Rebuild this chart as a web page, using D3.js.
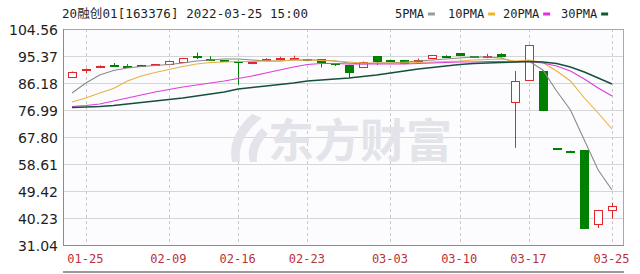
<!DOCTYPE html>
<html><head><meta charset="utf-8">
<script src="https://cdn.jsdelivr.net/npm/d3@7"></script>
<style>
html,body{margin:0;padding:0;background:#fff;}
svg{display:block;}
</style></head>
<body>
<svg id="chart" width="640" height="274"></svg>
<script>
// Daily K-line of 20融创01 with moving averages
const dates = ["01-24","01-25","01-26","01-27","01-28","02-07","02-08","02-09","02-10","02-11",
  "02-14","02-15","02-16","02-17","02-18","02-21","02-22","02-23","02-24","02-25",
  "02-28","03-01","03-02","03-03","03-04","03-07","03-08","03-09","03-10","03-11",
  "03-14","03-15","03-16","03-17","03-18","03-21","03-22","03-23","03-24","03-25"];
const opens  = [88.22,90.26,91.55,92.35,92.10,92.30,92.50,92.60,93.45,95.20,
  94.30,93.85,93.75,92.65,94.30,94.60,94.75,94.35,94.35,92.95,
  92.30,91.73,95.37,94.00,94.00,93.95,94.55,95.50,96.28,95.20,
  95.30,95.95,79.71,87.20,90.26,63.90,63.10,63.30,38.19,42.80];
const highs  = [90.10,91.10,92.20,93.00,92.60,92.35,92.65,93.70,94.70,96.50,
  95.30,93.90,93.80,93.40,94.60,95.10,95.50,94.40,94.40,93.00,
  92.35,93.50,95.40,94.05,94.05,94.50,95.60,95.60,96.30,95.40,
  96.10,96.30,90.26,99.20,90.60,63.95,63.15,63.35,43.00,45.40];
const lows   = [88.00,89.58,91.45,92.28,92.00,92.20,92.45,92.50,93.40,94.30,
  94.20,93.70,85.60,92.60,94.10,93.80,94.70,94.20,91.50,91.97,
  87.80,91.60,92.30,93.30,92.60,93.90,94.45,95.30,95.30,94.90,
  94.60,94.80,64.10,87.10,76.60,63.65,62.95,36.45,36.83,40.00];
const closes = [89.92,90.94,92.05,92.30,92.05,92.25,92.60,93.60,94.60,95.10,
  94.25,93.75,93.50,93.33,94.40,94.70,94.80,94.30,92.90,92.85,
  89.50,93.43,93.43,93.35,92.65,94.05,95.55,95.35,95.37,95.10,
  95.40,94.95,86.86,99.12,76.65,63.72,63.03,36.50,42.90,44.40];

const ma5  = [82.78,86.18,88.90,90.43,91.28,91.80,92.14,92.48,92.99,93.67,
  94.01,94.35,94.35,94.01,93.67,93.67,94.01,94.01,94.01,93.67,
  92.99,92.65,92.99,92.99,93.33,93.67,94.01,94.35,94.69,95.03,
  95.03,94.69,93.33,93.67,90.60,83.46,76.99,66.78,56.57,49.76];
const ma10 = [79.71,81.07,82.78,84.31,86.86,88.56,89.75,90.77,91.80,92.65,
  93.16,93.33,93.50,93.50,93.67,93.67,94.01,94.01,93.84,93.67,
  93.33,92.99,92.99,92.99,92.99,93.16,93.33,93.50,93.67,94.01,
  94.18,94.35,93.67,94.01,93.16,90.26,86.86,81.07,75.97,70.52];
const ma20 = [78.18,78.52,79.03,80.05,81.07,82.10,83.12,83.97,84.82,85.50,
  86.18,86.86,87.71,88.56,89.58,90.60,91.63,92.48,92.82,92.82,
  92.65,92.65,92.65,92.65,92.65,92.82,92.99,93.16,93.33,93.33,
  93.50,93.50,93.33,93.50,92.99,91.97,90.26,87.54,84.48,81.75];
const ma30 = [77.84,78.01,78.18,78.52,79.03,79.54,80.05,80.56,81.07,81.75,
  82.44,83.12,84.14,84.65,85.16,85.67,86.18,86.86,87.20,87.54,
  87.88,88.39,88.90,89.58,90.26,90.94,91.46,91.97,92.48,92.82,
  92.99,93.16,93.33,93.50,93.33,92.82,91.63,89.92,87.88,85.84];

const yTicks = [31.04,40.23,49.42,58.61,67.80,76.99,86.18,95.37,104.56];
const xTickDates = ["01-25","02-09","02-16","02-23","03-03","03-10","03-17","03-25"];
const title = "20融创01[163376] 2022-03-25 15:00";
const maNames = ["5PMA","10PMA","20PMA","30PMA"];
const maSeries = [ma5, ma10, ma20, ma30];
const maColors = ["#8a8a8a","#eab040","#dc3cdc","#14503a"];
const maLegendColors = ["#9a9a9a","#f2b428","#e030e0","#0c5a34"];

const svg = d3.select("#chart");
const L = 63, R = 624, T = 29, B = 245;
const x = d3.scalePoint().domain(dates).range([72, 612]);
const y = d3.scaleLinear().domain([31.04, 104.56]).range([B, T]);
const monoFont = "'DejaVu Sans Mono','Noto Sans CJK SC',monospace";

// plot background
svg.append("rect").attr("x", L).attr("y", T).attr("width", R - L).attr("height", B - T)
  .attr("fill", "#fcfcfe");

// horizontal grid
svg.append("g").selectAll("line").data(yTicks).join("line")
  .attr("x1", L).attr("x2", R)
  .attr("y1", d => Math.round(y(d)) + 0.5).attr("y2", d => Math.round(y(d)) + 0.5)
  .attr("stroke", "#d6d6d8").attr("stroke-width", 1);

// vertical dashed grid on labelled dates
svg.append("g").selectAll("line").data(xTickDates).join("line")
  .attr("x1", d => Math.round(x(d)) + 0.5).attr("x2", d => Math.round(x(d)) + 0.5)
  .attr("y1", T).attr("y2", B)
  .attr("stroke", "#c9c9cc").attr("stroke-dasharray", "3,3");

// watermark
const wm = svg.append("g").attr("fill", "#e3e4e9");
wm.append("path").attr("d", "M252,114 C238,126 228,142 232,162 L240,162 C238,145 246,130 262,118 Z");
wm.append("path").attr("d", "M262,128 C252,138 246,150 250,162 L257,162 C256,152 260,142 268,134 Z");
wm.append("text").attr("x", 268).attr("y", 157)
  .attr("font-family", "'Noto Sans CJK SC',sans-serif").attr("font-weight", "bold")
  .attr("font-size", 46).text("东方财富");

// candles
const candles = svg.append("g");
dates.forEach((d, i) => {
  const o = opens[i], c = closes[i], h = highs[i], l = lows[i];
  const up = c >= o;
  const col = up ? "#e0282c" : "#008000";
  const cx = Math.round(x(d));
  candles.append("line")
    .attr("x1", cx + 0.5).attr("x2", cx + 0.5)
    .attr("y1", y(h)).attr("y2", y(l))
    .attr("stroke", col).attr("stroke-width", 1);
  const yt = Math.round(y(Math.max(o, c))), yb = Math.round(y(Math.min(o, c)));
  const hgt = Math.max(1, yb - yt);
  if (up && hgt > 2) {
    candles.append("rect").attr("x", cx - 4 + 0.5).attr("y", yt + 0.5)
      .attr("width", 8).attr("height", hgt)
      .attr("fill", "#ffffff").attr("stroke", col).attr("stroke-width", 1);
  } else {
    candles.append("rect").attr("x", cx - 4).attr("y", yt)
      .attr("width", 9).attr("height", Math.max(2, hgt))
      .attr("fill", col);
  }
});

// moving average lines
const line = d3.line().x((v, i) => x(dates[i])).y(v => y(v));
maSeries.forEach((s, k) => {
  svg.append("path").datum(s).attr("d", line)
    .attr("fill", "none").attr("stroke", maColors[k])
    .attr("stroke-width", k === 3 ? 1.4 : 1.1);
});

// frame
svg.append("rect").attr("x", L + 0.5).attr("y", T + 0.5).attr("width", R - L - 1).attr("height", B - T)
  .attr("fill", "none").attr("stroke", "#a8a8ac");
svg.append("line").attr("x1", L + 0.5).attr("x2", L + 0.5).attr("y1", T).attr("y2", B + 1)
  .attr("stroke", "#8c8c90");
svg.append("line").attr("x1", L).attr("x2", R).attr("y1", B + 0.5).attr("y2", B + 0.5)
  .attr("stroke", "#8c8c90");
svg.append("line").attr("x1", L).attr("x2", R).attr("y1", 272).attr("y2", 272)
  .attr("stroke", "#9a9a9e").attr("stroke-width", 2);

// y axis labels
const yAxis = svg.append("g").attr("transform", `translate(${L},0)`)
  .call(d3.axisLeft(y).tickValues(yTicks).tickSize(0).tickPadding(5).tickFormat(d3.format(".2f")));
yAxis.select(".domain").remove();
yAxis.selectAll("text").attr("font-family", "'DejaVu Sans',sans-serif").attr("font-size", 14)
  .attr("fill", "#1e1e1e").attr("dy", "0.36em");

// x axis labels
const xAxis = svg.append("g").attr("transform", `translate(-1,${B})`)
  .call(d3.axisBottom(x).tickValues(xTickDates).tickSize(0).tickPadding(9));
xAxis.select(".domain").remove();
xAxis.selectAll("text").attr("font-family", monoFont).attr("font-size", 12)
  .attr("fill", "#b8323a");

// title
svg.append("text").attr("x", 62).attr("y", 18)
  .attr("font-family", monoFont).attr("font-size", 12.5).attr("fill", "#1e1e1e")
  .attr("textLength", 246).attr("lengthAdjust", "spacing").text(title);

// legend
const legendX = [395, 448, 503, 561];
const lg = svg.append("g");
maNames.forEach((n, k) => {
  const t = lg.append("text").attr("x", legendX[k]).attr("y", 18)
    .attr("font-family", monoFont).attr("font-size", 12).attr("fill", "#1e1e1e").text(n);
  const w = t.node().getComputedTextLength();
  lg.append("rect").attr("x", legendX[k] + w + 4).attr("y", 12.5)
    .attr("width", 7).attr("height", 3).attr("fill", maLegendColors[k]);
});
</script>
</body></html>
